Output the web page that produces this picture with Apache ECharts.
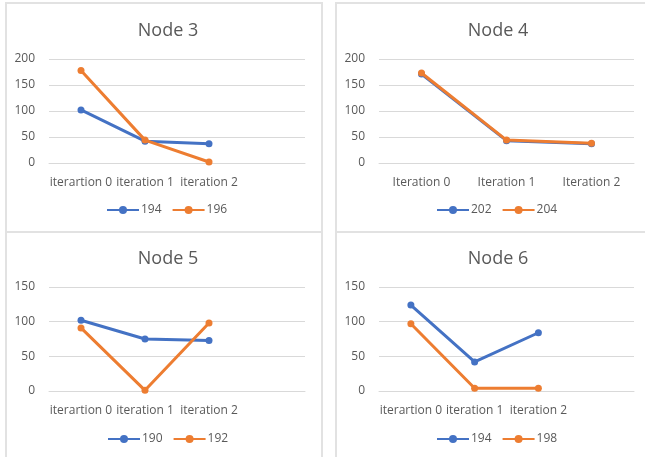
<!DOCTYPE html>
<html>
<head>
<meta charset="utf-8">
<script src="https://cdn.jsdelivr.net/npm/echarts@6/dist/echarts.min.js"></script>
<style>
html,body{margin:0;padding:0;background:#fff;width:645px;height:457px;overflow:hidden;position:relative;}
.c{position:absolute;}
.b{position:absolute;border-color:#E2E2E2;border-style:solid;border-width:0;box-sizing:border-box;pointer-events:none;}
</style>
</head>
<body>
<div class="b" style="left:5px;top:2px;width:318px;height:231px;border-width:2px 2px 0 2px;"></div>
<div class="b" style="left:335px;top:2px;width:320px;height:231px;border-width:2px 0 0 2px;"></div>
<div class="b" style="left:5px;top:231px;width:318px;height:240px;border-width:2px 2px 0 2px;"></div>
<div class="b" style="left:335px;top:231px;width:320px;height:240px;border-width:2px 0 0 2px;"></div>
<div id="a" class="c" style="left:0;top:0;width:329px;height:232px;"></div>
<div id="b" class="c" style="left:329px;top:0;width:316px;height:232px;"></div>
<div id="cc" class="c" style="left:0;top:232px;width:329px;height:225px;"></div>
<div id="d" class="c" style="left:329px;top:232px;width:316px;height:225px;"></div>
<script>
// ---- data ----
const titles = ['Node 3', 'Node 4', 'Node 5', 'Node 6'];
const catsNode3 = ['iterartion 0', 'iteration 1', 'iteration 2', ''];
const catsNode4 = ['Iteration 0', 'Iteration 1', 'Iteration 2'];
const catsNode5 = ['iterartion 0', 'iteration 1', 'iteration 2', ''];
const catsNode6 = ['iterartion 0', 'iteration 1', 'iteration 2', ''];
const namesNode3 = ['194', '196'];
const namesNode4 = ['202', '204'];
const namesNode5 = ['190', '192'];
const namesNode6 = ['194', '198'];
const node3_194 = [102, 42, 37];
const node3_196 = [178, 44, 2];
const node4_202 = [171, 43, 37];
const node4_204 = [173, 44, 38];
const node5_190 = [102, 75, 73];
const node5_192 = [91, 1, 98];
const node6_194 = [124, 42, 84];
const node6_198 = [97, 4, 4];
const yMaxTop = 200;
const yMaxBottom = 150;
const yInterval = 50;

const FONT = 'Open Sans';
const TXT = '#595959';
const GRID = '#D9D9D9';
const COLORS = ['#4472C4', '#ED7D31'];

function mk(el, cfg) {
  const chart = echarts.init(document.getElementById(el), null, {renderer: 'canvas'});
  chart.setOption({
    animation: false,
    textStyle: {fontFamily: FONT},
    color: COLORS,
    title: {
      text: cfg.title,
      left: cfg.titleX,
      top: cfg.titleTop,
      textAlign: 'center',
      textStyle: {fontFamily: FONT, fontSize: 18, fontWeight: 'normal', color: TXT}
    },
    legend: {
      data: cfg.names,
      left: cfg.legendX,
      top: cfg.legendTop,
      padding: 0,
      itemWidth: 32,
      itemHeight: 10,
      itemGap: 10,
      textStyle: {fontFamily: FONT, fontSize: 12, color: TXT, padding: [0, 0, 0, -3]}
    },
    grid: cfg.grid,
    xAxis: {
      type: 'category',
      data: cfg.cats,
      boundaryGap: true,
      axisLine: {show: true, lineStyle: {color: GRID, width: 1}},
      axisTick: {show: false},
      axisLabel: {fontFamily: FONT, fontSize: 12, color: TXT, margin: cfg.xMargin, interval: 0}
    },
    yAxis: {
      type: 'value',
      min: 0,
      max: cfg.ymax,
      interval: yInterval,
      axisLine: {show: false},
      axisTick: {show: false},
      splitLine: {lineStyle: {color: GRID, width: 1}},
      axisLabel: {fontFamily: FONT, fontSize: 12, color: TXT, margin: 14}
    },
    series: cfg.series.map((d, i) => ({
      name: cfg.names[i],
      type: 'line',
      data: d,
      symbol: 'circle',
      symbolSize: 7,
      lineStyle: {width: 3, color: COLORS[i]},
      itemStyle: {color: COLORS[i]},
      z: 2 + i
    }))
  });
}

mk('a', {title: titles[0], titleX: 163, titleTop: 17, names: namesNode3, cats: catsNode3,
  legendX: 106, legendTop: 204, grid: {left: 49, top: 59, width: 256, height: 104},
  xMargin: 14, ymax: yMaxTop, series: [node3_194, node3_196]});
mk('b', {title: titles[1], titleX: 164, titleTop: 17, names: namesNode4, cats: catsNode4,
  legendX: 107, legendTop: 204, grid: {left: 50, top: 59, width: 255, height: 104},
  xMargin: 14, ymax: yMaxTop, series: [node4_202, node4_204]});
mk('cc', {title: titles[2], titleX: 163, titleTop: 13, names: namesNode5, cats: catsNode5,
  legendX: 107, legendTop: 201, grid: {left: 49, top: 55, width: 256, height: 104},
  xMargin: 14, ymax: yMaxBottom, series: [node5_190, node5_192]});
mk('d', {title: titles[3], titleX: 164, titleTop: 13, names: namesNode6, cats: catsNode6,
  legendX: 107, legendTop: 201, grid: {left: 50, top: 55, width: 255, height: 104},
  xMargin: 14, ymax: yMaxBottom, series: [node6_194, node6_198]});
</script>
</body>
</html>
